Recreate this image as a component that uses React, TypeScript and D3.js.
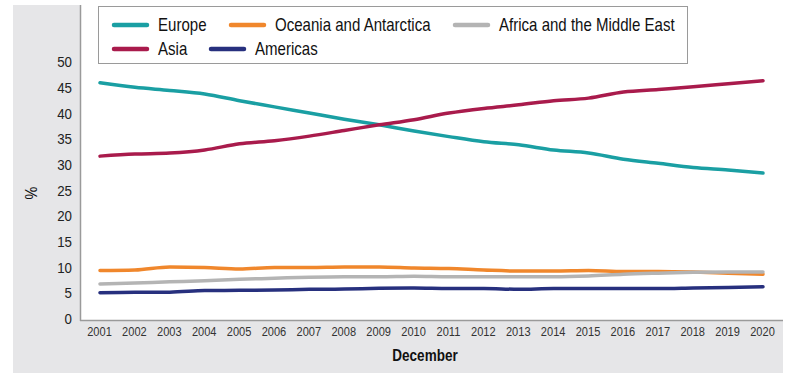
import React, { useEffect, useRef } from 'react';
import * as d3 from 'd3';

const years: string[] = [
  '2001', '2002', '2003', '2004', '2005', '2006', '2007', '2008', '2009', '2010',
  '2011', '2012', '2013', '2014', '2015', '2016', '2017', '2018', '2019', '2020',
];

const europe: number[] = [45.9, 45.0, 44.4, 43.7, 42.4, 41.2, 40.0, 38.8, 37.7, 36.5, 35.4, 34.4, 33.8, 32.8, 32.2, 31.0, 30.2, 29.4, 28.9, 28.3];
const asia: number[] = [31.6, 32.0, 32.2, 32.8, 34.0, 34.6, 35.5, 36.6, 37.7, 38.7, 40.0, 40.9, 41.6, 42.4, 42.9, 44.1, 44.6, 45.1, 45.7, 46.3];
const oceania: number[] = [9.3, 9.4, 10.0, 9.9, 9.6, 9.9, 9.9, 10.0, 10.0, 9.8, 9.7, 9.4, 9.2, 9.2, 9.3, 9.1, 9.1, 9.0, 8.8, 8.6];
const africa: number[] = [6.7, 6.9, 7.1, 7.3, 7.6, 7.8, 8.0, 8.1, 8.1, 8.2, 8.1, 8.1, 8.1, 8.1, 8.25, 8.6, 8.8, 8.95, 9.0, 9.0];
const americas: number[] = [5.0, 5.1, 5.1, 5.4, 5.45, 5.5, 5.65, 5.7, 5.85, 5.9, 5.8, 5.8, 5.65, 5.8, 5.8, 5.8, 5.8, 5.9, 6.0, 6.15];

const yTicks: number[] = [0, 5, 10, 15, 20, 25, 30, 35, 40, 45, 50];

interface Series {
  name: string;
  values: number[];
  color: string;
}

const series: Series[] = [
  { name: 'Europe', values: europe, color: '#1a9fa3' },
  { name: 'Oceania and Antarctica', values: oceania, color: '#f0872c' },
  { name: 'Africa and the Middle East', values: africa, color: '#b4b4b4' },
  { name: 'Asia', values: asia, color: '#a91b4c' },
  { name: 'Americas', values: americas, color: '#27307e' },
];

const FONT = '"Liberation Sans", Arial, sans-serif';

type G = d3.Selection<SVGSVGElement, unknown, null, undefined>;

// text drawn at (x, y) and squeezed horizontally to mimic a condensed face
const narrowText = (svg: G, x: number, y: number, txt: string, size: number, anchor = 'start', weight = 'normal', fill = '#111', sx = 0.82) =>
  svg.append('text')
    .attr('transform', `translate(${x},${y}) scale(${sx},1)`)
    .attr('text-anchor', anchor)
    .attr('font-family', FONT)
    .attr('font-size', size)
    .attr('font-weight', weight)
    .attr('fill', fill)
    .text(txt);

const App: React.FC = () => {
  const ref = useRef<SVGSVGElement | null>(null);

  useEffect(() => {
    if (!ref.current) return;
    const svg = d3.select(ref.current) as G;
    svg.selectAll('*').remove();

    // panel + plot area
    svg.append('rect').attr('x', 13).attr('y', 5).attr('width', 770).attr('height', 368).attr('fill', '#e6e6e8');
    svg.append('rect').attr('x', 81).attr('y', 5).attr('width', 702).attr('height', 315).attr('fill', '#ffffff');

    const x = d3.scalePoint<string>().domain(years).range([100, 763]);
    const y = d3.scaleLinear().domain([0, 50]).range([318.3, 61.7]);

    // axes lines
    svg.append('line').attr('x1', 80.5).attr('x2', 80.5).attr('y1', 5).attr('y2', 321)
      .attr('stroke', '#9a9a9a').attr('stroke-width', 1.5);
    svg.append('line').attr('x1', 80).attr('x2', 783).attr('y1', 320.5).attr('y2', 320.5)
      .attr('stroke', '#9a9a9a').attr('stroke-width', 1.5);

    // y tick labels
    yTicks.forEach((t) => narrowText(svg, 72, y(t) + 5.6, String(t), 15.5, 'end', 'normal', '#222', 0.86));

    // x tick labels
    years.forEach((yr) => narrowText(svg, (x(yr) || 0) - 0.5, 336, yr, 13.5, 'middle', 'normal', '#333'));

    // axis titles
    svg.append('text')
      .attr('transform', 'translate(37,193) rotate(-90) scale(0.9,1)')
      .attr('text-anchor', 'middle')
      .attr('font-family', FONT)
      .attr('font-size', 16)
      .attr('fill', '#111')
      .text('%');
    narrowText(svg, 425, 361, 'December', 16.5, 'middle', 'bold', '#111');

    // lines
    const line = d3.line<number>()
      .x((_, i) => x(years[i]) || 0)
      .y((d) => y(d))
      .curve(d3.curveMonotoneX);

    const drawOrder = ['Americas', 'Oceania and Antarctica', 'Africa and the Middle East', 'Europe', 'Asia'];
    drawOrder.forEach((n) => {
      const s = series.find((d) => d.name === n)!;
      svg.append('path')
        .attr('d', line(s.values) || '')
        .attr('fill', 'none')
        .attr('stroke', s.color)
        .attr('stroke-width', 3.5)
        .attr('stroke-linecap', 'round')
        .attr('stroke-linejoin', 'round');
    });

    // legend
    svg.append('rect').attr('x', 98.5).attr('y', 6.5).attr('width', 589).attr('height', 57)
      .attr('fill', '#fff').attr('stroke', '#9a9a9a').attr('stroke-width', 1);

    const legendPos: { [k: string]: [number, number] } = {
      'Europe': [112, 25],
      'Oceania and Antarctica': [229, 25],
      'Africa and the Middle East': [453, 25],
      'Asia': [112, 49],
      'Americas': [209, 49],
    };
    series.forEach((s) => {
      const [lx, ly] = legendPos[s.name];
      svg.append('line')
        .attr('x1', lx + 2).attr('x2', lx + 35).attr('y1', ly).attr('y2', ly)
        .attr('stroke', s.color).attr('stroke-width', 4.5).attr('stroke-linecap', 'round');
      narrowText(svg, lx + 46, ly + 6.2, s.name, 17.5, 'start', 'normal', '#111', 0.86);
    });
  }, []);

  return (
    <svg
      ref={ref}
      width={800}
      height={390}
      style={{ position: 'absolute', left: 0, top: 0, background: '#fff' }}
    />
  );
};

export default App;
